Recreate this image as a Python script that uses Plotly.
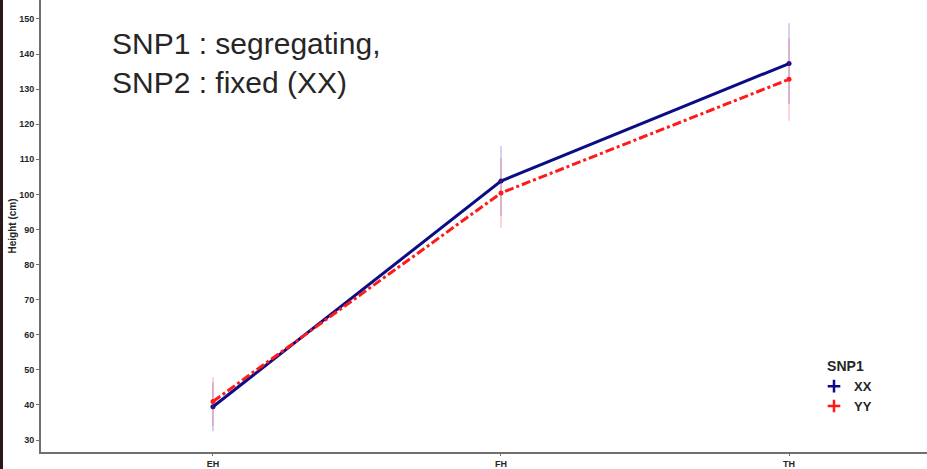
import plotly.graph_objects as go

# Growth stages and mean height per SNP1 genotype
stages = ["EH", "FH", "TH"]
xx_mean = [39.5, 103.8, 137.3]
xx_err = [7.0, 10.0, 11.5]
yy_mean = [41.0, 100.4, 132.8]
yy_err = [7.0, 10.0, 11.8]

y_ticks = [30, 40, 50, 60, 70, 80, 90, 100, 110, 120, 130, 140, 150]

TEXT = "#262626"
AXIS = "#707070"
NAVY = "#0c0c85"
RED = "#ff1a1a"
FONT = "Liberation Sans, Arial, sans-serif"

fig = go.Figure()

# Mean lines with spread bars
fig.add_trace(go.Scatter(
    x=stages, y=xx_mean, name="XX", mode="lines+markers", showlegend=False,
    line=dict(color=NAVY, width=3),
    marker=dict(color=NAVY, size=5),
    error_y=dict(type="data", array=xx_err, visible=True, width=0,
                 thickness=1.2, color="rgba(40,40,200,0.35)"),
))
fig.add_trace(go.Scatter(
    x=stages, y=yy_mean, name="YY", mode="lines+markers", showlegend=False,
    line=dict(color=RED, width=3, dash="dashdot"),
    marker=dict(color=RED, size=5),
    error_y=dict(type="data", array=yy_err, visible=True, width=0,
                 thickness=1.2, color="rgba(255,60,60,0.35)"),
))

# Legend keys drawn as point-range crosses
fig.add_trace(go.Scatter(
    x=[None], y=[None], name="XX", mode="markers",
    marker=dict(symbol="cross-thin", size=9, color=NAVY,
                line=dict(color=NAVY, width=2.5)),
))
fig.add_trace(go.Scatter(
    x=[None], y=[None], name="YY", mode="markers",
    marker=dict(symbol="cross-thin", size=9, color=RED,
                line=dict(color=RED, width=2.5)),
))

fig.update_layout(
    width=927, height=469,
    margin=dict(l=41, r=0, t=0, b=17),
    paper_bgcolor="white", plot_bgcolor="white",
    font=dict(family=FONT, color=TEXT),
    showlegend=True,
    legend=dict(
        title=dict(text="<b>SNP1</b>", side="top center",
                   font=dict(size=14, color=TEXT)),
        font=dict(size=13, color=TEXT, weight="bold"),
        x=(814 - 41) / 886, xanchor="left", y=1 - 353 / 452, yanchor="top",
        bgcolor="rgba(0,0,0,0)", itemwidth=30, tracegroupgap=0,
    ),
    xaxis=dict(
        type="category", range=[-0.597, 2.479],
        showline=True, linecolor=AXIS, linewidth=2,
        ticks="outside", ticklen=2, tickcolor=AXIS,
        tickfont=dict(size=9, color=TEXT, family=FONT, weight="bold"),
        showgrid=False, zeroline=False,
    ),
    yaxis=dict(
        range=[26.6, 155.4],
        tickvals=y_ticks,
        showline=True, linecolor=AXIS, linewidth=2,
        ticks="outside", ticklen=3, tickcolor=AXIS,
        tickfont=dict(size=9, color=TEXT, family=FONT, weight="bold"),
        showgrid=False, zeroline=False,
        title=dict(text="<b>Height (cm)</b>", standoff=1,
                   font=dict(size=10, color=TEXT)),
    ),
    annotations=[
        dict(text="SNP1 : segregating,", xref="paper", yref="paper",
             x=(110 - 41) / 886, y=1 - 25 / 452, xanchor="left", yanchor="top",
             showarrow=False, font=dict(size=30, color=TEXT)),
        dict(text="SNP2 : fixed (XX)", xref="paper", yref="paper",
             x=(110 - 41) / 886, y=1 - 64 / 452, xanchor="left", yanchor="top",
             showarrow=False, font=dict(size=30, color=TEXT)),
    ],
    shapes=[
        dict(type="rect", xref="paper", yref="paper", layer="above",
             x0=-41 / 886, x1=-38 / 886, y0=-0.05, y1=1.05,
             fillcolor="#2b1818", line=dict(width=0)),
    ],
)

fig.write_html("out.html")
